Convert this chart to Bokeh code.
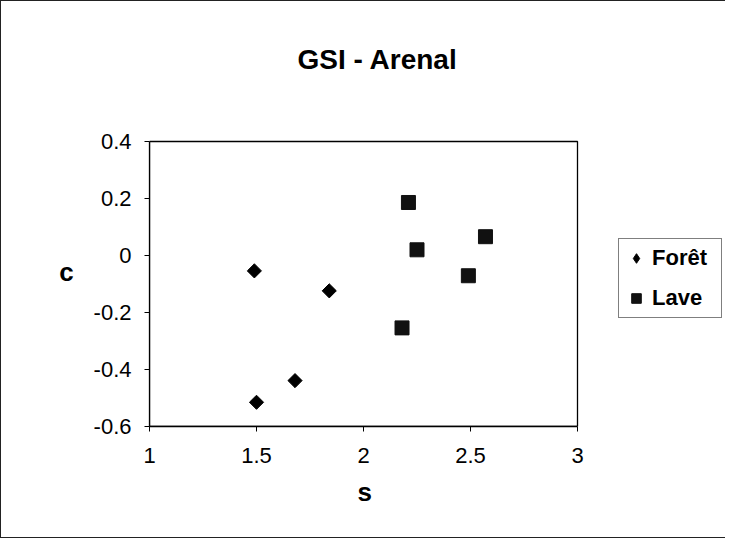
from bokeh.plotting import figure
from bokeh.models import Range1d, FixedTicker, Legend, LegendItem, BoxAnnotation, Title
from bokeh.embed import file_html
from bokeh.resources import INLINE
import numpy as np

# ---- data ----
foret_s = [1.49, 1.84, 1.68, 1.50]
foret_c = [-0.054, -0.124, -0.439, -0.515]
lave_s = [2.21, 2.25, 2.57, 2.49, 2.18]
lave_c = [0.186, 0.020, 0.066, -0.071, -0.254]

x_ticks = [1, 1.5, 2, 2.5, 3]
x_tick_labels = ["1", "1.5", "2", "2.5", "3"]
y_ticks = [-0.6, -0.4, -0.2, 0, 0.2, 0.4]
y_tick_labels = ["-0.6", "-0.4", "-0.2", "0", "0.2", "0.4"]
x_min, x_max = 1, 3
y_min, y_max = -0.6, 0.4

title_text = "GSI - Arenal"
x_label = "s"
y_label = "c"
series_names = ["Forêt", "Lave"]

FONT = "Liberation Sans"

# layout: the plot box is 148..576 px wide and 140..425 px tall; the frame is
# extended to the right (legend) and a little upward (title room)
W, H = 725, 538
LEFT, TOP, BOTTOM = 148, 116, 113
x_ppu = 214.0
y_ppu = 285.0
x_end = x_min + (W - LEFT) / x_ppu
y_end = y_max + (140 - TOP) / y_ppu

p = figure(width=W, height=H, output_backend="svg", toolbar_location=None,
           x_range=Range1d(x_min, x_end), y_range=Range1d(y_min, y_end),
           min_border_left=LEFT, min_border_right=0, min_border_top=TOP,
           min_border_bottom=BOTTOM)
p.styles = {"border-left": "1px solid #222", "border-top": "1px solid #222",
            "border-bottom": "1px solid #222"}

p.title.text = title_text
p.title.align = "left"
p.title.offset = 148
p.title.vertical_align = "top"
p.title.standoff = 82
p.title.text_font = FONT
p.title.text_font_size = "28px"
p.title.text_font_style = "bold"
p.title.text_color = "black"

p.grid.visible = False
p.outline_line_color = None
p.background_fill_color = "white"
p.border_fill_color = "white"

box = BoxAnnotation(left=x_min, right=x_max, bottom=y_min, top=y_max,
                    fill_alpha=0, fill_color=None, line_color="black",
                    line_alpha=1.0, line_width=1.3)
p.add_layout(box)

for ax in (p.xaxis, p.yaxis):
    ax.axis_line_color = "black"
    ax.axis_line_width = 1.3
    ax.major_tick_in = 0
    ax.major_tick_out = 5
    ax.major_tick_line_color = "black"
    ax.minor_tick_line_color = None
    ax.major_label_text_font = FONT
    ax.major_label_text_font_size = "22px"
    ax.major_label_text_color = "black"
    ax.axis_label_text_font = FONT
    ax.axis_label_text_font_size = "26px"
    ax.axis_label_text_font_style = "bold"
    ax.axis_label_text_color = "black"

p.xaxis.bounds = (x_min, x_max)
p.xaxis.ticker = FixedTicker(ticks=x_ticks)
p.xaxis.major_label_overrides = dict(zip(x_ticks, x_tick_labels))
p.xaxis.major_label_standoff = 16

p.yaxis.bounds = (y_min, y_max)
p.yaxis.ticker = FixedTicker(ticks=y_ticks)
p.yaxis.major_label_overrides = dict(zip(y_ticks, y_tick_labels))
p.yaxis.major_label_standoff = 13
p.yaxis.axis_label = y_label
p.yaxis.axis_label_standoff = 17
p.yaxis.axis_label_orientation = "horizontal"

xtitle = Title(text=x_label, align="left", offset=208, standoff=19,
               text_font=FONT, text_font_size="26px", text_font_style="bold",
               text_color="black")
p.add_layout(xtitle, "below")

# legend swatch for the diamonds (drawn underneath the rotated squares)
r1_key = p.scatter(foret_s, foret_c, marker="diamond", size=10,
                   fill_color="black", line_color="black")
r1 = p.scatter(foret_s, foret_c, marker="square", angle=np.pi / 4, size=10,
               fill_color="black", line_color="black")
r2 = p.scatter(lave_s, lave_c, marker="square", size=14,
               fill_color="#111111", line_color="#111111")

legend = Legend(items=[LegendItem(label=series_names[0], renderers=[r1_key]),
                       LegendItem(label=series_names[1], renderers=[r2])],
                location=(469, 108), orientation="vertical")
legend.border_line_color = "black"
legend.border_line_width = 1
legend.background_fill_color = "white"
legend.label_text_font = FONT
legend.label_text_font_size = "22px"
legend.label_text_font_style = "bold"
legend.label_text_color = "black"
legend.glyph_width = 24
legend.glyph_height = 28
legend.label_height = 28
legend.label_width = 64
legend.label_standoff = 4
legend.padding = 5
legend.spacing = 12
legend.margin = 0
p.add_layout(legend, "center")

open("out.html", "w").write(file_html(p, INLINE))
